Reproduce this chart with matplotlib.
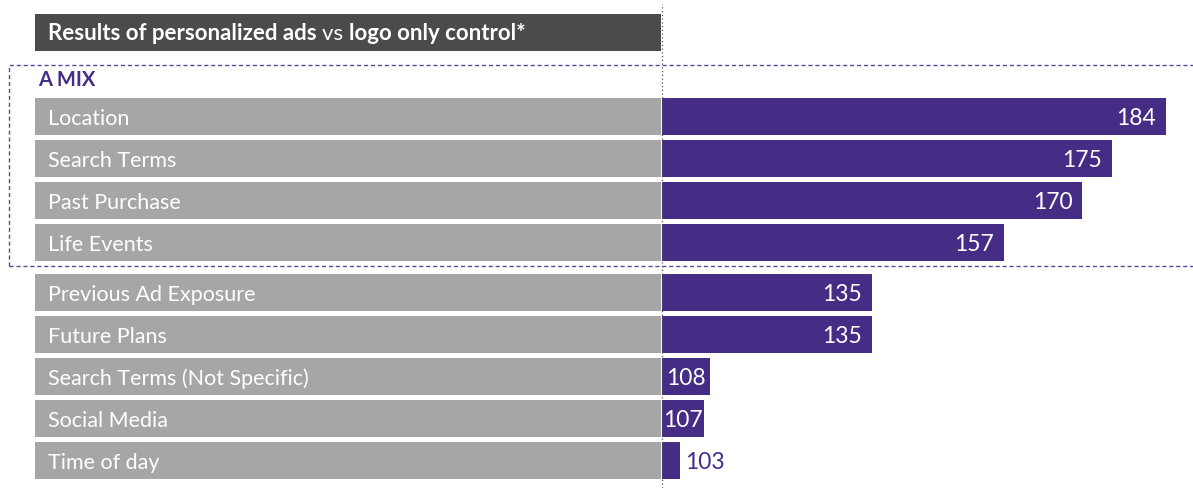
import numpy as np
import matplotlib
matplotlib.use("Agg")
import matplotlib.pyplot as plt
from matplotlib.patches import Rectangle

plt.rcParams['font.family'] = ['Lato', 'DejaVu Sans']

# data
labels = ["Location", "Search Terms", "Past Purchase", "Life Events",
          "Previous Ad Exposure", "Future Plans", "Search Terms (Not Specific)",
          "Social Media", "Time of day"]
values = [184, 175, 170, 157, 135, 135, 108, 107, 103]
baseline = 100
group_name = "A MIX"
n_mix = 4

purple = "#452c85"
grey = "#a6a6a6"
dark = "#4b4b4d"

W, H = 1193, 489
fig = plt.figure(figsize=(W / 100, H / 100), dpi=100)

# row positions (mix group, then a small gap)
ypos = np.arange(len(labels)) + np.where(np.arange(len(labels)) >= n_mix, 0.19, 0)
row_px = 42.0
y_top = -117.5 / row_px
y_bot = (H - 117.5) / row_px
bh = 37 / row_px

# left: grey label bars
axl = fig.add_axes([35 / W, 0, (661 - 35) / W, 1])
axl.set_xlim(0, 1)
axl.set_ylim(y_bot, y_top)
axl.axis("off")
axl.barh(ypos, 1, left=0, height=bh, color=grey)
for y, lab in zip(ypos, labels):
    axl.annotate(lab, xy=(0, y), xytext=(9.5, -1), textcoords="offset points",
                 ha="left", va="center", color="white", fontsize=15.5)

# title box
axl.barh([-2.0], 1, left=0, height=bh, color=dark)

# right: purple value bars
axr = fig.add_axes([662 / W, 0, (W - 662) / W, 1])
axr.set_xlim(baseline, baseline + (W - 662) / 6.0)
axr.set_ylim(y_bot, y_top)
axr.axis("off")
axr.barh(ypos, np.array(values) - baseline, left=baseline, height=bh, color=purple)
for y, v in zip(ypos, values):
    d = v - baseline
    if d > 10:
        axr.annotate(str(v), xy=(v, y), xytext=(-7, -1), textcoords="offset points",
                     ha="right", va="center", color="white", fontsize=16.5)
    elif d > 5:
        axr.annotate(str(v), xy=(baseline + d / 2, y), xytext=(0, -1),
                     textcoords="offset points",
                     ha="center", va="center", color="white", fontsize=16.5)
    else:
        axr.annotate(str(v), xy=(v, y), xytext=(3.5, -1), textcoords="offset points",
                     ha="left", va="center", color=purple, fontsize=16.5)

# dotted baseline
axr.axvline(baseline, ymin=0, ymax=1 - 5 / H, color="#555555", lw=0.9,
            ls=(0, (1, 2)), clip_on=False, zorder=5)

# dashed box round the mix group
fig.add_artist(Rectangle((9 / W, (H - 267) / H), 1.2, (267 - 66) / H,
                         transform=fig.transFigure, fill=False,
                         edgecolor="#5e4b98", lw=1.0, ls=(0, (3, 2))))
fig.text(38 / W, 1 - 80 / H, group_name, color=purple, fontsize=14.5,
         fontweight="bold", ha="left", va="center")

# title text, three parts
fig.canvas.draw()
r = fig.canvas.get_renderer()
x = 48 / W
yt = 1 - 34 / H
for txt, wt in [("Results of personalized ads ", "bold"), ("vs ", "normal"),
                ("logo only control*", "bold")]:
    t = fig.text(x, yt, txt, color="white", fontsize=16, fontweight=wt,
                 ha="left", va="center")
    bb = t.get_window_extent(renderer=r)
    x += bb.width / W

fig.savefig("out.png", dpi=100)
